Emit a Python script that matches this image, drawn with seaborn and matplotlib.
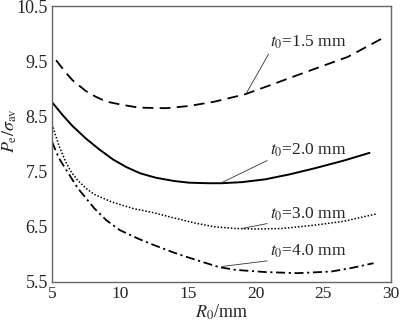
import matplotlib
matplotlib.use("Agg")
import matplotlib.pyplot as plt
import seaborn as sns
import pandas as pd

# R0 (mm) and normalised pressure Pe/sigma_av for each blank thickness t0
r_t15 = [5.3, 6.0, 6.5, 7.5, 8.2, 9.0, 10.2, 11.4, 13.4, 15.1, 17.0, 19.2, 21.0, 23.1, 25.0, 26.8, 29.3]
p_t15 = [9.52, 9.30, 9.16, 8.96, 8.86, 8.77, 8.71, 8.66, 8.65, 8.69, 8.77, 8.90, 9.06, 9.25, 9.42, 9.58, 9.91]

r_t20 = [5.0, 5.8, 6.5, 7.5, 8.5, 9.5, 10.5, 11.5, 12.65, 14.0, 15.1, 16.5, 17.5, 19.0, 20.7, 22.5, 24.35, 26.5, 28.4]
p_t20 = [8.76, 8.52, 8.33, 8.10, 7.90, 7.72, 7.58, 7.47, 7.39, 7.33, 7.30, 7.29, 7.29, 7.31, 7.36, 7.45, 7.56, 7.70, 7.84]

r_t30 = [5.0, 5.5, 6.0, 6.4, 6.9, 7.5, 8.1, 9.4, 11.0, 12.4, 14.0, 15.5, 17.0, 18.5, 20.0, 22.0, 24.35, 26.5, 28.85]
p_t30 = [8.36, 7.98, 7.68, 7.50, 7.34, 7.20, 7.09, 6.95, 6.83, 6.76, 6.66, 6.57, 6.50, 6.47, 6.46, 6.47, 6.53, 6.60, 6.73]

r_t40 = [5.0, 5.5, 6.0, 6.9, 8.1, 9.0, 10.0, 11.4, 12.4, 13.9, 14.85, 16.0, 17.3, 18.5, 20.7, 23.1, 25.6, 27.0, 28.7]
p_t40 = [8.04, 7.75, 7.55, 7.20, 6.84, 6.62, 6.44, 6.28, 6.18, 6.04, 5.96, 5.87, 5.77, 5.72, 5.68, 5.66, 5.69, 5.75, 5.84]

labels = ["$t_0$=1.5 mm", "$t_0$=2.0 mm", "$t_0$=3.0 mm", "$t_0$=4.0 mm"]
# label anchor (R0, P) and the point on the curve each leader line points to
label_xy = [(21.1, 9.69), (21.1, 7.73), (21.1, 6.57), (21.1, 5.89)]
leader_xy = [(19.3, 8.91), (17.5, 7.30), (19.0, 6.47), (17.5, 5.78)]

xticks = [5, 10, 15, 20, 25, 30]
yticks = [5.5, 6.5, 7.5, 8.5, 9.5, 10.5]

sns.set_style("white")
plt.rcParams["font.family"] = ["Liberation Serif", "DejaVu Serif"]
plt.rcParams["mathtext.fontset"] = "stix"

fig = plt.figure(figsize=(4.0, 3.23), dpi=100)
ax = fig.add_axes([0.13, 0.127, 0.848, 0.854])

series = [
    (r_t15, p_t15, (0, (6, 3.5)), 1.3),
    (r_t20, p_t20, "-", 1.4),
    (r_t30, p_t30, (0, (1, 1.2)), 1.1),
    (r_t40, p_t40, (0, (5, 2, 1.2, 2)), 1.3),
]
for r, p, ls, lw in series:
    df = pd.DataFrame({"R0": r, "P": p})
    sns.lineplot(data=df, x="R0", y="P", ax=ax, color="black",
                 linestyle=ls, linewidth=lw, sort=True)

for text, (tx, ty), (px, py) in zip(labels, label_xy, leader_xy):
    ax.annotate(text, xy=(px, py), xytext=(tx, ty), fontsize=12.5,
                ha="left", va="bottom",
                arrowprops=dict(arrowstyle="-", color="#333333", lw=0.6,
                                relpos=(0, 0), shrinkA=0, shrinkB=0))

ax.set_xlim(5, 30)
ax.set_ylim(5.5, 10.5)
ax.set_xticks(xticks)
ax.set_yticks(yticks)
ax.set_xticklabels([str(t) for t in xticks], fontsize=12.5)
ax.set_yticklabels([f"{t:.1f}" for t in yticks], fontsize=13)
ax.tick_params(direction="in", length=4, width=0.9, color="#555555",
               top=False, right=False, pad=3)
for s in ax.spines.values():
    s.set_color("#666666")
    s.set_linewidth(1.0)

ax.set_xlabel("$R_0$/mm", fontsize=13, labelpad=0)
ax.set_ylabel(r"$P_\mathrm{e}/\sigma_\mathrm{av}$", fontsize=13)
ax.yaxis.set_label_coords(-0.097, 0.55)

fig.savefig("out.png", dpi=100)
